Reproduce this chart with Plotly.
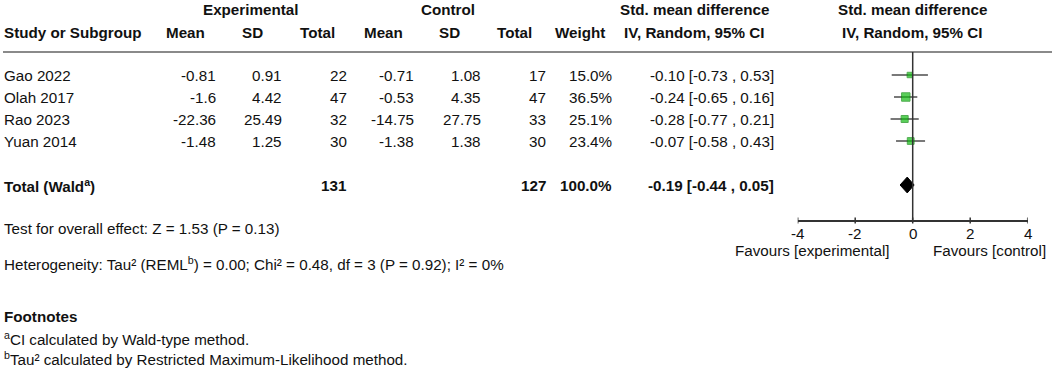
import math
import plotly.graph_objects as go

# ---------------- data ----------------
studies = ["Gao 2022", "Olah 2017", "Rao 2023", "Yuan 2014"]
exp_mean = [-0.81, -1.6, -22.36, -1.48]
exp_sd = [0.91, 4.42, 25.49, 1.25]
exp_n = [22, 47, 32, 30]
ctl_mean = [-0.71, -0.53, -14.75, -1.38]
ctl_sd = [1.08, 4.35, 27.75, 1.38]
ctl_n = [17, 47, 33, 30]
weight = [15.0, 36.5, 25.1, 23.4]
smd = [-0.10, -0.24, -0.28, -0.07]
ci_lo = [-0.73, -0.65, -0.77, -0.58]
ci_hi = [0.53, 0.16, 0.21, 0.43]

total_exp_n = 131
total_ctl_n = 127
total_weight = 100.0
total_smd = -0.19
total_lo = -0.44
total_hi = 0.05

axis_ticks = [-4, -2, 0, 2, 4]
axis_ticktext = ["-4", "-2", "0", "2", "4"]

# ---------------- layout helpers ----------------
W, H = 1052, 370
Y0, DY = 75, 22          # pixel centre of first study row, row pitch
TOTAL_ROW = 5.0
FONT = "Liberation Sans, Arial, sans-serif"
FS = 15.2

def px(x):
    return x / W

def py(y):
    return 1 - y / H

study_rows = list(range(len(studies)))

fig = go.Figure()

# CI lines
xs, ys = [], []
for r, lo, hi in zip(study_rows, ci_lo, ci_hi):
    xs += [lo, hi, None]
    ys += [r, r, None]
fig.add_trace(go.Scatter(x=xs, y=ys, mode="lines",
                         line=dict(color="#4d4d4d", width=1.5),
                         hoverinfo="skip"))

# study squares (area ~ weight)
fig.add_trace(go.Scatter(
    x=smd, y=study_rows, mode="markers",
    marker=dict(symbol="square", size=[1.4 * math.sqrt(w) for w in weight],
                color="#14bb14", line=dict(color="#0a8a0a", width=1)),
    hoverinfo="skip"))

# pooled diamond
dh = 0.36
fig.add_trace(go.Scatter(
    x=[total_lo, total_smd, total_hi, total_smd, total_lo],
    y=[TOTAL_ROW, TOTAL_ROW - dh, TOTAL_ROW, TOTAL_ROW + dh, TOTAL_ROW],
    mode="lines", fill="toself", fillcolor="black",
    line=dict(color="black", width=1), hoverinfo="skip"))

annotations = []

def txt(x, y, s, anchor="right", bold=False, yref="y", size=FS, xref="paper"):
    if bold:
        s = "<b>" + s + "</b>"
    annotations.append(dict(
        x=px(x) if xref == "paper" else x, xref=xref, y=y, yref=yref, text=s,
        showarrow=False, xanchor=anchor, yanchor="middle", borderpad=0,
        font=dict(family=FONT, size=size, color="#111111")))

# header rows
HR1, HR2 = py(10), py(32)
txt(250, HR1, "Experimental", "center", True, "paper")
txt(448, HR1, "Control", "center", True, "paper")
txt(694, HR1, "Std. mean difference", "center", True, "paper")
txt(912, HR1, "Std. mean difference", "center", True, "paper")
txt(3, HR2, "Study or Subgroup", "left", True, "paper")
txt(185, HR2, "Mean", "center", True, "paper")
txt(252, HR2, "SD", "center", True, "paper")
txt(317, HR2, "Total", "center", True, "paper")
txt(383, HR2, "Mean", "center", True, "paper")
txt(449, HR2, "SD", "center", True, "paper")
txt(514, HR2, "Total", "center", True, "paper")
txt(580, HR2, "Weight", "center", True, "paper")
txt(694, HR2, "IV, Random, 95% CI", "center", True, "paper")
txt(912, HR2, "IV, Random, 95% CI", "center", True, "paper")

# study rows
for i, r in enumerate(study_rows):
    txt(3, r, studies[i], "left")
    txt(217, r, str(exp_mean[i]))
    txt(283, r, str(exp_sd[i]))
    txt(348, r, str(exp_n[i]))
    txt(415, r, str(ctl_mean[i]))
    txt(482, r, str(ctl_sd[i]))
    txt(547, r, str(ctl_n[i]))
    txt(613, r, f"{weight[i]:.1f}%")
    txt(775, r, f"{smd[i]:.2f} [{ci_lo[i]:.2f} , {ci_hi[i]:.2f}]")

# total row
txt(3, TOTAL_ROW, "Total (Wald<sup>a</sup>)", "left", True)
txt(348, TOTAL_ROW, str(total_exp_n), bold=True)
txt(547, TOTAL_ROW, str(total_ctl_n), bold=True)
txt(613, TOTAL_ROW, f"{total_weight:.1f}%", bold=True)
txt(775, TOTAL_ROW, f"{total_smd:.2f} [{total_lo:.2f} , {total_hi:.2f}]", bold=True)

# bottom texts
txt(3, py(228), "Test for overall effect: Z = 1.53 (P = 0.13)", "left", yref="paper")
txt(3, py(263), "Heterogeneity: Tau² (REML<sup>b</sup>) = 0.00; Chi² = 0.48, df = 3 (P = 0.92); I² = 0%",
    "left", yref="paper")
txt(3, py(316), "Footnotes", "left", True, "paper")
txt(3, py(338), "<sup>a</sup>CI calculated by Wald-type method.", "left", yref="paper")
txt(3, py(358), "<sup>b</sup>Tau² calculated by Restricted Maximum-Likelihood method.", "left",
    yref="paper")

# axis tick labels (placed at the axis' own data positions)
for tv, tt in zip(axis_ticks, axis_ticktext):
    txt(tv, py(233), tt, "center", yref="paper", xref="x")

# favours labels
txt(890, py(251), "Favours [experimental]", "right", yref="paper")
txt(1047, py(251), "Favours [control]", "right", yref="paper")

shapes = [
    dict(type="line", xref="paper", yref="paper", x0=px(3), x1=1, y0=py(52), y1=py(52),
         line=dict(color="#8a8a8a", width=2)),
    dict(type="line", xref="x", yref="paper", x0=0, x1=0, y0=py(52), y1=py(221),
         line=dict(color="#333333", width=1.5)),
]
# tick marks crossing the axis line
for tv in axis_ticks:
    shapes.append(dict(type="line", xref="x", yref="paper", x0=tv, x1=tv,
                       y0=py(217.5), y1=py(223.5),
                       line=dict(color="#333333", width=1.5)))

fig.update_layout(
    width=W, height=H, margin=dict(l=0, r=0, t=0, b=0, pad=0, autoexpand=False),
    paper_bgcolor="white", plot_bgcolor="white", showlegend=False,
    annotations=annotations, shapes=shapes,
    xaxis=dict(domain=[px(797.7), px(1027.7)], range=[-4, 4], anchor="free",
               position=py(221), showline=True, linecolor="#333333", linewidth=1.5,
               ticks="", tickvals=axis_ticks, showticklabels=False, showgrid=False,
               zeroline=False, fixedrange=True),
    yaxis=dict(domain=[0, 1], range=[(H - Y0) / DY, -Y0 / DY], visible=False,
               fixedrange=True),
)

fig.write_html("out.html", config={"displayModeBar": False},
               post_script="document.body.style.margin='0';document.body.style.overflow='hidden';")
